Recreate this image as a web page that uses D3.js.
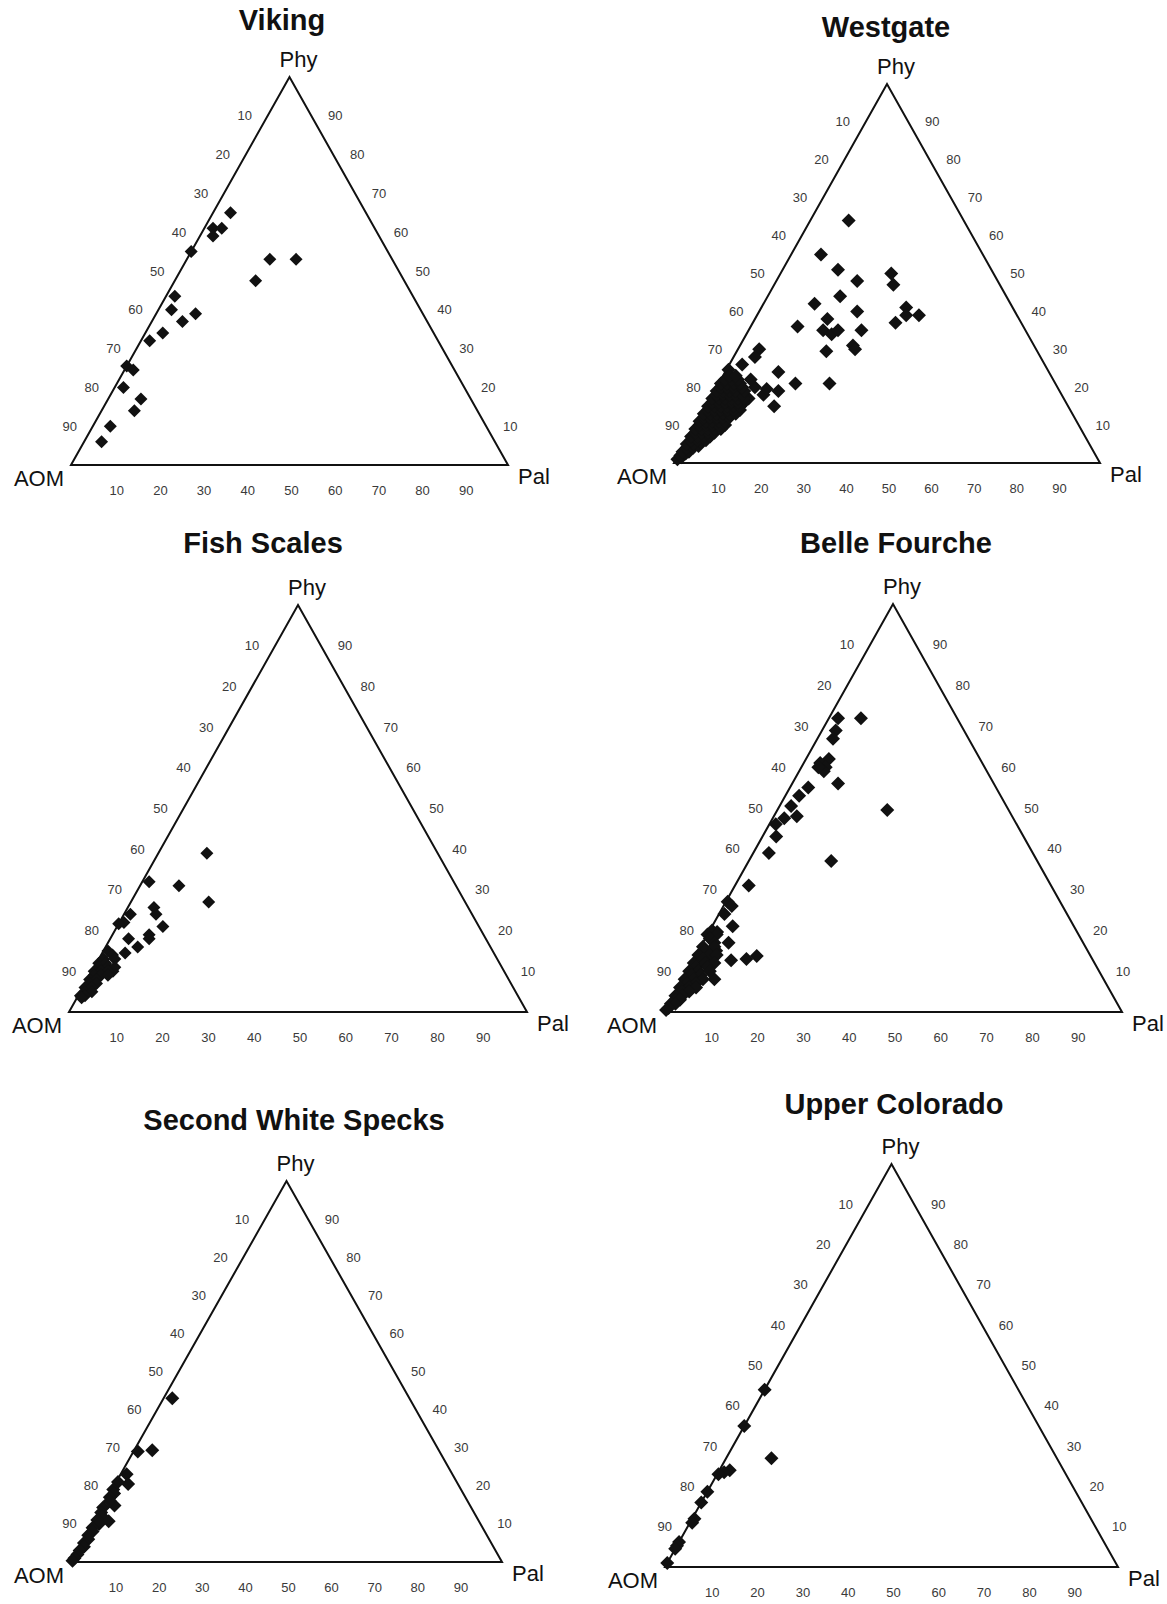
<!DOCTYPE html>
<html>
<head>
<meta charset="utf-8">
<script src="https://cdn.jsdelivr.net/npm/d3@7"></script>
<style>
  body { margin: 0; background: #fff; }
  text { font-family: "Liberation Sans", Arial, sans-serif; }
</style>
</head>
<body>
<div id="chart"></div>
<script>
var width = 1167,
    height = 1604;

// tick values shown on all three sides
var ticks = [10, 20, 30, 40, 50, 60, 70, 80, 90];

// each point is [Phy %, Pal %]; AOM = 100 - Phy - Pal
var viking = [[65,4],[61,2],[61,4],[59,3],[55,0],[53,19],[53,25],[47.5,18.5],[43.5,2],[40,3],
  [37,7],[39,9],[34,4],[32,2],[25.5,0],[24.5,2],[20,2],[17,7.5],[14,7.5],[10,4],[6,4]];

var westgate = [[64,9],[55,7],[51,13],[48,19],[50,26],[47,28],[44,17],[42,12],[40,23],[38,17],
  [41,34],[37,33.5],[39,35],[39,38],[36,11],[35,17.5],[34,20],[35,21],[35,26.5],[31,26.5],
  [30,27.5],[29.5,21],[21,26],[21,18],[30,5],[28,5],[26,3],[24,12.5],[19,15],[15,16],
  [18,12],[19.5,12],[24.6,0.5],[17,9],[20,9],[22,7],[14,8.5],[16,8.5],
  [1,0.3],[1.5,1],[2,0.5],[2.5,1.5],[3,0.5],[3,2],[4,1],[4,2.5],[4.5,3.5],[5,0.5],[5,2],[5.5,3.5],
  [6,1],[6,2.5],[6,4.5],[7,0.5],[7,2],[7,3.5],[7,5],[8,1],[8,2.5],[8,4],[8,5.5],
  [9,0.5],[9,2],[9,3.5],[9,5],[9,6.5],[10,1],[10,2.5],[10,4],[10,5.5],[10,7],
  [11,0.5],[11,2],[11,3.5],[11,5],[11,6.5],[12,1],[12,2.5],[12,4],[12,5.5],[12,7],
  [13,0.5],[13,2],[13,3.5],[13,5],[13,6.5],[13,8],[14,1],[14,2.5],[14,4],[14,5.5],[14,7],
  [15,0.5],[15,2],[15,3.5],[15,5],[15,6.5],[15,8],[16,1],[16,2.5],[16,4],[16,5.5],[16,7],
  [17,0.5],[17,2],[17,3.5],[17,5],[17,6.5],[17,8],[18,1],[18,2.5],[18,4],[18,5.5],[18,7],
  [19,0.5],[19,2],[19,3.5],[19,5],[19,7],[20,1],[20,2.5],[20,4],[20,6],
  [21,0.5],[21,2],[21,3.5],[21,5],[22,1],[22,2.5],[22,4],[23,1.5],[23,3]];

var fishScales = [[39,10.6],[27,17],[31,8.5],[32,1.5],[25.7,5.7],[24,7],[24,1.4],[22,1],[21.7,0],
  [21,10],[19,8],[18,8.5],[18,4],[16,7],[14.5,5],[10,4.6],
  [15,1],[14,2.5],[13,1],[13,3.5],[12,0.5],[12,2],[11,1],[11,3],[11,4.5],[10,0.5],[10,2],[10,3.5],
  [9,1],[9,2.5],[9,4],[8,0.5],[8,2],[7,1],[7,2.5],[6,0.5],[6,2],[5,1],[5,2.5],[4,0.5],[4,1.5],[3.5,1]];

var belleFourche = [[72,2],[72,7],[69,3],[67,3.4],[62,5],[61,3.6],[60,5.3],[59,5.4],[60,3.7],[56,10],
  [55,4],[53,3],[50.5,2.5],[48,5],[47.5,2.5],[46,1.4],[43,3],[39,3.4],[49.5,24],[37,18],
  [31,3],[27,0.4],[26,1.8],[24,1.2],[21,4.5],[19,0],[19.6,1.8],[17,5.6],[12.7,8.3],[13,11.5],
  [13.7,13.4],[15,3.9],[8,7],
  [20,0.5],[19,2],[18,1],[17,2.5],[16,0.5],[16,3],[15,1.5],[14,0.5],[14,3],[14,4.5],[13,2],
  [12,0.5],[12,3],[12,5],[11,1.5],[11,4],[10,0.5],[10,2.5],[10,5],[9,1.5],[9,3.5],[8,0.5],
  [8,2.5],[8,4.5],[7,1.5],[7,3.5],[6,0.5],[6,2.5],[6,4],[5,1.5],[5,3],[4,0.5],[4,2],[3,1],
  [3,2],[2,0.5],[2,1.5],[1,0.5],[0.5,0.2]];

var secondWhiteSpecks = [[43,2],[29,1],[29.3,4.2],[23,1.4],[20.5,3],[21,0.4],[19,0.3],[18,1],
  [14.8,2.7],[14.3,0.3],[17,0.5],[16,1],[13,0.5],[12,1.2],[11,0.6],[10.7,3.4],[10,1.5],[9,0.5],
  [8,1],[7,0.5],[6,1],[5,0.5],[4,1],[3,0.5],[2,0.5],[1,0.3],[0.3,0.2]];

var upperColorado = [[44,0],[35,0],[27,10],[24,2.3],[23.5,1.3],[23,0.3],[18.7,0],[16,0],
  [12,0.5],[11,0.5],[6.2,0],[5.3,0],[4.5,0],[1,0]];

var panels = [
  { title: "Viking", data: viking, left: 71, right: 508, base: 465, apex: 77, tx: 282, ty: 30, d: 13 },
  { title: "Westgate", data: westgate, left: 674, right: 1100, base: 463, apex: 84, tx: 886, ty: 37, d: 14 },
  { title: "Fish Scales", data: fishScales, left: 69, right: 527, base: 1012, apex: 605, tx: 263, ty: 553, d: 13 },
  { title: "Belle Fourche", data: belleFourche, left: 664, right: 1122, base: 1012, apex: 604, tx: 896, ty: 553, d: 14 },
  { title: "Second White Specks", data: secondWhiteSpecks, left: 71, right: 502, base: 1562, apex: 1181, tx: 294, ty: 1130, d: 14 },
  { title: "Upper Colorado", data: upperColorado, left: 665, right: 1118, base: 1567, apex: 1164, tx: 894, ty: 1114, d: 14 }
];

var svg = d3.select("#chart")
    .append("svg")
    .attr("width", width)
    .attr("height", height)
    .style("background", "#fff");

panels.forEach(function(p) {
    drawTernary(p);
});

function drawTernary(p) {
    var g = svg.append("g").attr("class", "ternary");

    // horizontal position: Pal + Phy/2, vertical: Phy
    var x = d3.scaleLinear().domain([0, 100]).range([p.left, p.right]);
    var y = d3.scaleLinear().domain([0, 100]).range([p.base, p.apex]);

    function px(phy, pal) { return x(pal + phy / 2); }

    g.append("path")
        .attr("d", d3.line()([[x(0), y(0)], [x(50), y(100)], [x(100), y(0)]]) + "Z")
        .attr("fill", "none")
        .attr("stroke", "#111")
        .attr("stroke-width", 2)
        .attr("stroke-linejoin", "miter");

    g.append("text")
        .attr("x", p.tx)
        .attr("y", p.ty)
        .attr("text-anchor", "middle")
        .style("font-size", "29px")
        .style("font-weight", "bold")
        .style("fill", "#111")
        .text(p.title);

    // corner labels
    g.append("text")
        .attr("x", x(50) + 9)
        .attr("y", y(100) - 10)
        .attr("text-anchor", "middle")
        .style("font-size", "22px")
        .style("fill", "#111")
        .text("Phy");

    g.append("text")
        .attr("x", x(0) - 7)
        .attr("y", y(0) + 21)
        .attr("text-anchor", "end")
        .style("font-size", "22px")
        .style("fill", "#111")
        .text("AOM");

    g.append("text")
        .attr("x", x(100) + 10)
        .attr("y", y(0) + 19)
        .attr("text-anchor", "start")
        .style("font-size", "22px")
        .style("fill", "#111")
        .text("Pal");

    // left side: AOM %
    g.append("g").selectAll("text")
        .data(ticks)
        .enter().append("text")
        .attr("x", function(v) { return px(100 - v, 0) - 23; })
        .attr("y", function(v) { return y(100 - v); })
        .attr("dy", "0.35em")
        .attr("text-anchor", "middle")
        .style("font-size", "13px")
        .style("fill", "#3a3a3a")
        .text(function(v) { return v; });

    // right side: Phy %
    g.append("g").selectAll("text")
        .data(ticks)
        .enter().append("text")
        .attr("x", function(v) { return px(v, 100 - v) + 24; })
        .attr("y", function(v) { return y(v); })
        .attr("dy", "0.35em")
        .attr("text-anchor", "middle")
        .style("font-size", "13px")
        .style("fill", "#3a3a3a")
        .text(function(v) { return v; });

    // bottom: Pal %
    g.append("g").selectAll("text")
        .data(ticks)
        .enter().append("text")
        .attr("x", function(v) { return x(v) + 2; })
        .attr("y", y(0) + 30)
        .attr("text-anchor", "middle")
        .style("font-size", "13px")
        .style("fill", "#3a3a3a")
        .text(function(v) { return v; });

    var diamond = d3.symbol().type(d3.symbolSquare).size(p.d * p.d / 2);

    g.append("g").selectAll("path")
        .data(p.data)
        .enter().append("path")
        .attr("d", diamond)
        .attr("transform", function(d) {
            return "translate(" + px(d[0], d[1]) + "," + y(d[0]) + ") rotate(45)";
        })
        .style("fill", "#111");
}
</script>
</body>
</html>
